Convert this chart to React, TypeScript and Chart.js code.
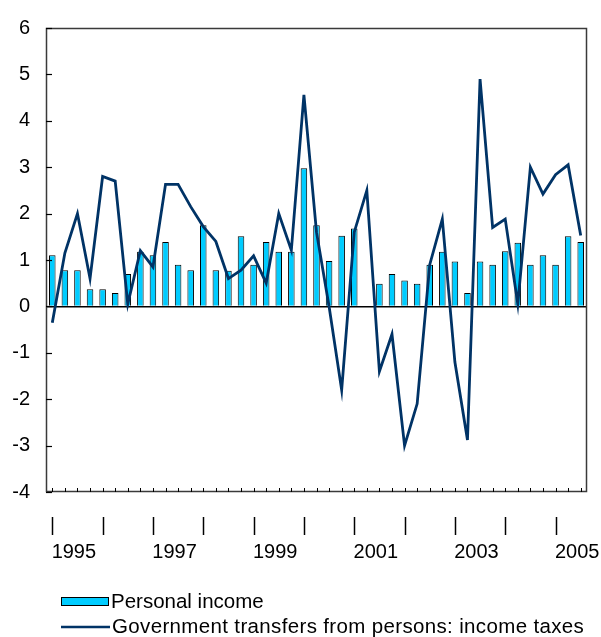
import React, { useEffect, useRef } from 'react';
import { Chart, registerables } from 'chart.js';

Chart.register(...registerables);

const years = [1995, 1996, 1997, 1998, 1999, 2000, 2001, 2002, 2003, 2004, 2005];
const quarterNames = ['Q1', 'Q2', 'Q3', 'Q4'];
const quarterLabels = years.flatMap((y) => quarterNames.map((q) => `${y} ${q}`)).slice(0, 43);
const shownYears = ['1995', '1997', '1999', '2001', '2003', '2005'];

const personalIncome = [
  1.1, 0.78, 0.78, 0.37, 0.37, 0.29, 0.7, 1.18, 1.1, 1.39, 0.9,
  0.78, 1.75, 0.78, 0.77, 1.51, 0.9, 1.39, 1.18, 1.18, 2.98, 1.75,
  0.98, 1.52, 1.68, 0, 0.49, 0.7, 0.56, 0.49, 0.9, 1.18, 0.97,
  0.29, 0.97, 0.9, 1.19, 1.37, 0.9, 1.1, 0.9, 1.51, 1.39,
];

const transfersTaxes = [
  -0.35, 1.15, 2.0, 0.6, 2.8, 2.7, 0.05, 1.2, 0.85, 2.63, 2.63,
  2.15, 1.72, 1.4, 0.6, 0.78, 1.09, 0.5, 2.0, 1.21, 4.56, 1.6,
  0.0, -1.8, 1.6, 2.5, -1.4, -0.6, -3.0, -2.1, 0.9, 1.88, -1.2,
  -2.88, 4.9, 1.7, 1.88, 0.05, 3.0, 2.42, 2.84, 3.05, 1.53,
];

const yMin = -4;
const yMax = 6;

const seriesNames = ['Personal income', 'Government transfers from persons: income taxes'];

const BAR_COLOR = '#00CCFF';
const LINE_COLOR = '#003366';
const FONT = '"Liberation Sans", Arial, sans-serif';

const decorPlugin = {
  id: 'decor',
  afterDraw(chart: any) {
    const { ctx, chartArea, scales } = chart;
    const { left, top, right, bottom } = chartArea;
    const x = scales.x;
    const y = scales.y;
    ctx.save();
    // frame
    ctx.strokeStyle = '#3a3a3a';
    ctx.lineWidth = 1.5;
    ctx.strokeRect(left + 0.5, top + 0.5, right - left - 1, bottom - top - 1);
    // y inner ticks
    ctx.strokeStyle = '#000';
    ctx.lineWidth = 1.2;
    for (let v = yMin; v <= yMax; v++) {
      const py = Math.round(y.getPixelForValue(v)) + 0.5;
      ctx.beginPath();
      ctx.moveTo(left, py);
      ctx.lineTo(left + 6, py);
      ctx.stroke();
    }
    // x minor ticks (inside) and detached year ticks
    for (let i = 0; i < quarterLabels.length; i++) {
      const px = Math.round(x.getPixelForValue(i)) + 0.5;
      ctx.lineWidth = 1;
      ctx.beginPath();
      ctx.moveTo(px, bottom);
      ctx.lineTo(px, bottom - 4);
      ctx.stroke();
      if (quarterLabels[i].endsWith('Q1')) {
        ctx.lineWidth = 1.5;
        ctx.beginPath();
        ctx.moveTo(px, bottom + 25);
        ctx.lineTo(px, bottom + 43);
        ctx.stroke();
      }
    }
    // legend
    ctx.font = `20.5px ${FONT}`;
    ctx.textBaseline = 'middle';
    ctx.textAlign = 'left';
    ctx.fillStyle = BAR_COLOR;
    ctx.fillRect(61, 597, 48, 9);
    ctx.strokeStyle = '#000';
    ctx.lineWidth = 1;
    ctx.strokeRect(61.5, 597.5, 47, 8);
    ctx.fillStyle = '#000';
    ctx.fillText(seriesNames[0], 111, 602);
    ctx.strokeStyle = LINE_COLOR;
    ctx.lineWidth = 2.5;
    ctx.beginPath();
    ctx.moveTo(61, 627);
    ctx.lineTo(110, 627);
    ctx.stroke();
    ctx.fillStyle = '#000';
    try { (ctx as any).letterSpacing = '0.35px'; } catch (e) { /* ignore */ }
    ctx.fillText(seriesNames[1], 112, 627);
    try { (ctx as any).letterSpacing = '0px'; } catch (e) { /* ignore */ }
    ctx.restore();
  },
};

export default function App() {
  const ref = useRef<HTMLCanvasElement | null>(null);
  useEffect(() => {
    if (!ref.current) return;
    const chart = new Chart(ref.current, {
      type: 'bar',
      data: {
        labels: quarterLabels,
        datasets: [
          {
            type: 'line',
            label: seriesNames[1],
            data: transfersTaxes,
            borderColor: LINE_COLOR,
            borderWidth: 2.8,
            pointRadius: 0,
            tension: 0,
            fill: false,
            order: 0,
          } as any,
          {
            type: 'bar',
            label: seriesNames[0],
            data: personalIncome,
            backgroundColor: BAR_COLOR,
            borderColor: '#000',
            borderWidth: 1,
            barPercentage: 0.52,
            categoryPercentage: 1,
            order: 1,
          },
        ],
      },
      options: {
        responsive: false,
        animation: false,
        layout: { padding: { top: 20, right: 14, left: 0, bottom: 0 } },
        plugins: { legend: { display: false }, tooltip: { enabled: false } },
        scales: {
          x: {
            type: 'category',
            offset: true,
            afterFit: (s: any) => { s.height = 145; },
            grid: { display: false, drawTicks: false },
            border: { display: false },
            ticks: {
              autoSkip: false,
              maxRotation: 0,
              padding: 0,
              labelOffset: 9,
              color: '#000',
              font: { family: FONT, size: 20 },
              callback: (_v: any, index: number) => {
                const [yr, q] = quarterLabels[index].split(' ');
                return q === 'Q2' && shownYears.includes(yr) ? ['', '', yr] : '';
              },
            },
          },
          y: {
            min: yMin,
            max: yMax,
            afterFit: (s: any) => { s.width = 46; },
            grid: {
              drawTicks: false,
              color: (c: any) => (c.tick && c.tick.value === 0 ? '#000' : 'rgba(0,0,0,0)'),
              lineWidth: 1.5,
            },
            border: { display: false },
            ticks: {
              stepSize: 1,
              padding: 16,
              color: '#000',
              font: { family: FONT, size: 20 },
            },
          },
        },
      },
      plugins: [decorPlugin],
    });
    return () => chart.destroy();
  }, []);
  return (
    <div style={{ position: 'fixed', left: 0, top: 0, width: 601, height: 637, background: '#fff' }}>
      <canvas ref={ref} width={601} height={637} style={{ width: 601, height: 637 }} />
    </div>
  );
}
